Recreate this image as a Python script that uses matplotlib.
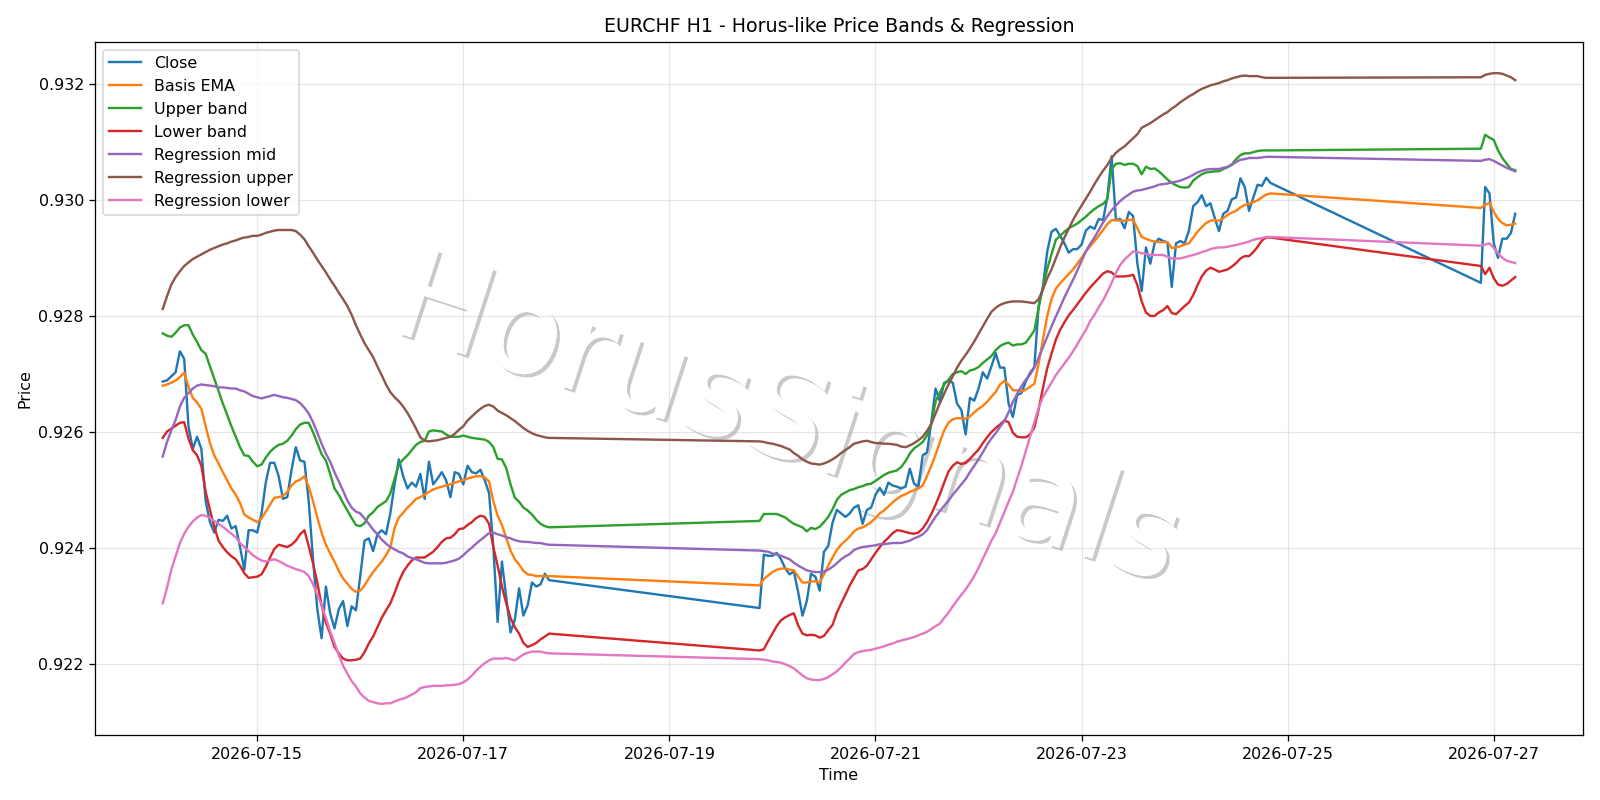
import pandas as pd
import matplotlib
matplotlib.use('Agg')
import matplotlib.pyplot as plt
import matplotlib.dates as mdates
import matplotlib.patheffects as pe

# hourly bars, three trading sessions (weekend gaps in between)
times = pd.DatetimeIndex(
    list(pd.date_range('2026-07-14 02:00', '2026-07-17 20:00', freq='h')) +
    list(pd.date_range('2026-07-19 21:00', '2026-07-24 20:00', freq='h')) +
    list(pd.date_range('2026-07-26 21:00', '2026-07-27 05:00', freq='h')))

close = [
    # session 1
    .92687, .92689, .92696, .92703, .92739, .92726, .92610, .92571, .92592, .92571,
    .92481, .92445, .92427, .92449, .92447, .92456, .92434, .92438, .92402, .92363,
    .92431, .92431, .92427, .92459, .92513, .92547, .92547, .92524, .92485, .92488,
    .92535, .92574, .92551, .92549, .92481, .92381, .92295, .92245, .92334, .92288,
    .92262, .92295, .92309, .92266, .92300, .92293, .92352, .92413, .92417, .92395,
    .92424, .92431, .92424, .92460, .92510, .92553, .92524, .92503, .92513, .92506,
    .92528, .92485, .92549, .92510, .92520, .92531, .92517, .92488, .92531, .92528,
    .92510, .92542, .92531, .92529, .92535, .92517, .92495, .92402, .92273, .92377,
    .92316, .92255, .92277, .92331, .92284, .92302, .92341, .92334, .92338, .92356,
    .92345,
    # session 2
    .92297, .92389, .92387, .92387, .92392, .92381, .92365, .92355, .92360, .92324,
    .92284, .92309, .92356, .92351, .92327, .92394, .92404, .92444, .92466, .92460,
    .92454, .92460, .92470, .92474, .92442, .92466, .92470, .92492, .92504, .92492,
    .92513, .92508, .92506, .92503, .92506, .92537, .92511, .92506, .92560, .92565,
    .92617, .92675, .92653, .92685, .92688, .92685, .92649, .92638, .92596, .92659,
    .92654, .92675, .92703, .92692, .92713, .92736, .92711, .92711, .92649, .92626,
    .92664, .92667, .92687, .92702, .92712, .92818, .92850, .92911, .92945, .92950,
    .92938, .92925, .92909, .92915, .92915, .92923, .92947, .92954, .92950, .92967,
    .92965, .93004, .93075, .92965, .92967, .92951, .92979, .92972, .92890, .92843,
    .92918, .92890, .92925, .92933, .92929, .92927, .92850, .92925, .92929, .92925,
    .92947, .92989, .92996, .93008, .92989, .92994, .92969, .92946, .92976, .92981,
    .93001, .93004, .93037, .93022, .92981, .93004, .93026, .93024, .93038, .93029,
    # session 3
    .92857, .93022, .93011, .92925, .92900, .92933, .92933, .92943, .92976]

basis_ema = [
    .92680, .92682, .92685, .92689, .92695, .92702, .92678, .92659, .92651, .92640,
    .92610, .92581, .92560, .92546, .92531, .92517, .92503, .92492, .92478, .92458,
    .92453, .92449, .92445, .92451, .92463, .92475, .92487, .92488, .92490, .92497,
    .92508, .92515, .92518, .92524, .92506, .92481, .92453, .92427, .92406, .92391,
    .92377, .92361, .92348, .92339, .92330, .92325, .92327, .92336, .92348, .92359,
    .92368, .92377, .92388, .92401, .92435, .92453, .92461, .92470, .92477, .92485,
    .92488, .92492, .92497, .92501, .92504, .92506, .92508, .92510, .92513, .92515,
    .92517, .92520, .92522, .92524, .92524, .92522, .92515, .92481, .92456, .92440,
    .92418, .92396, .92381, .92372, .92361, .92355, .92354, .92352, .92352, .92352,
    .92352,
    .92336, .92347, .92353, .92359, .92363, .92365, .92365, .92363, .92362, .92351,
    .92341, .92341, .92343, .92343, .92341, .92355, .92370, .92384, .92397, .92406,
    .92413, .92420, .92429, .92434, .92436, .92440, .92445, .92452, .92460, .92465,
    .92472, .92479, .92485, .92490, .92493, .92497, .92500, .92503, .92508, .92524,
    .92542, .92561, .92583, .92603, .92616, .92622, .92624, .92624, .92623, .92627,
    .92634, .92640, .92645, .92652, .92661, .92669, .92682, .92688, .92682, .92672,
    .92672, .92670, .92673, .92678, .92683, .92718, .92759, .92800, .92829, .92847,
    .92856, .92864, .92872, .92880, .92890, .92900, .92911, .92920, .92929, .92938,
    .92948, .92958, .92965, .92965, .92964, .92964, .92965, .92966, .92951, .92936,
    .92933, .92930, .92928, .92927, .92927, .92927, .92917, .92918, .92920, .92923,
    .92925, .92935, .92945, .92953, .92960, .92964, .92965, .92964, .92968, .92974,
    .92978, .92981, .92987, .92991, .92993, .92996, .92999, .93004, .93009, .93011,
    .92986, .92991, .92995, .92979, .92967, .92960, .92956, .92957, .92959]

upper_band = [
    .92770, .92766, .92764, .92771, .92780, .92784, .92784, .92768, .92755, .92741,
    .92735, .92713, .92692, .92671, .92649, .92630, .92610, .92592, .92574, .92560,
    .92559, .92549, .92541, .92544, .92556, .92566, .92573, .92578, .92580, .92585,
    .92594, .92605, .92613, .92616, .92616, .92600, .92581, .92562, .92551, .92528,
    .92503, .92492, .92478, .92465, .92452, .92440, .92438, .92443, .92456, .92462,
    .92471, .92476, .92481, .92494, .92520, .92544, .92553, .92560, .92569, .92578,
    .92583, .92585, .92601, .92603, .92602, .92601, .92596, .92592, .92592, .92592,
    .92594, .92592, .92590, .92589, .92588, .92587, .92583, .92574, .92554, .92553,
    .92538, .92510, .92487, .92480, .92470, .92465, .92458, .92449, .92442, .92438,
    .92436,
    .92447, .92459, .92459, .92459, .92459, .92456, .92453, .92447, .92442, .92439,
    .92436, .92429, .92435, .92433, .92437, .92445, .92454, .92467, .92483, .92492,
    .92496, .92500, .92502, .92505, .92507, .92510, .92511, .92516, .92521, .92526,
    .92530, .92532, .92534, .92540, .92550, .92563, .92572, .92577, .92583, .92594,
    .92614, .92653, .92668, .92682, .92690, .92700, .92703, .92705, .92700, .92706,
    .92708, .92712, .92719, .92725, .92731, .92741, .92748, .92752, .92754, .92749,
    .92751, .92751, .92754, .92764, .92775, .92814, .92850, .92881, .92906, .92931,
    .92938, .92945, .92951, .92955, .92959, .92965, .92971, .92978, .92984, .92989,
    .92993, .93001, .93053, .93062, .93063, .93060, .93062, .93062, .93058, .93044,
    .93057, .93053, .93054, .93049, .93042, .93035, .93029, .93025, .93022, .93021,
    .93022, .93033, .93039, .93044, .93047, .93048, .93049, .93049, .93053, .93056,
    .93061, .93070, .93077, .93080, .93080, .93082, .93084, .93085, .93085, .93085,
    .93088, .93112, .93107, .93103, .93085, .93072, .93062, .93053, .93051]

lower_band = [
    .92590, .92601, .92606, .92611, .92616, .92617, .92589, .92569, .92560, .92542,
    .92497, .92466, .92437, .92413, .92402, .92393, .92386, .92381, .92370, .92357,
    .92349, .92350, .92351, .92355, .92368, .92384, .92399, .92406, .92404, .92402,
    .92406, .92413, .92424, .92431, .92404, .92374, .92341, .92302, .92272, .92253,
    .92230, .92219, .92210, .92207, .92207, .92208, .92210, .92221, .92236, .92248,
    .92264, .92280, .92293, .92305, .92323, .92343, .92359, .92370, .92379, .92384,
    .92384, .92384, .92389, .92394, .92402, .92411, .92417, .92418, .92424, .92433,
    .92434, .92440, .92445, .92452, .92456, .92454, .92442, .92402, .92370, .92334,
    .92305, .92280, .92264, .92253, .92237, .92230, .92233, .92237, .92243, .92248,
    .92253,
    .92224, .92226, .92240, .92253, .92266, .92276, .92281, .92285, .92288, .92267,
    .92253, .92250, .92251, .92250, .92246, .92249, .92259, .92268, .92289, .92305,
    .92320, .92336, .92349, .92362, .92364, .92370, .92381, .92392, .92402, .92411,
    .92418, .92426, .92431, .92430, .92428, .92426, .92425, .92427, .92434, .92445,
    .92459, .92475, .92493, .92513, .92532, .92542, .92548, .92545, .92547, .92554,
    .92562, .92570, .92581, .92591, .92600, .92607, .92613, .92620, .92617, .92599,
    .92592, .92591, .92591, .92596, .92608, .92639, .92676, .92710, .92735, .92759,
    .92776, .92789, .92801, .92810, .92820, .92830, .92840, .92849, .92857, .92865,
    .92873, .92877, .92875, .92868, .92868, .92868, .92869, .92871, .92853, .92825,
    .92806, .92800, .92800, .92806, .92810, .92817, .92805, .92803, .92810, .92817,
    .92823, .92836, .92853, .92868, .92878, .92883, .92880, .92876, .92878, .92880,
    .92885, .92891, .92899, .92903, .92903, .92910, .92919, .92930, .92935, .92935,
    .92886, .92872, .92883, .92865, .92854, .92852, .92855, .92861, .92867]

reg_mid = [
    .92558, .92583, .92603, .92621, .92644, .92659, .92667, .92675, .92680, .92682,
    .92681, .92680, .92679, .92677, .92677, .92676, .92675, .92675, .92672, .92670,
    .92666, .92662, .92660, .92658, .92660, .92662, .92664, .92662, .92660, .92659,
    .92657, .92655, .92650, .92642, .92632, .92617, .92599, .92580, .92563, .92549,
    .92531, .92515, .92499, .92482, .92470, .92463, .92460, .92451, .92442, .92432,
    .92424, .92415, .92408, .92402, .92398, .92394, .92391, .92386, .92383, .92381,
    .92378, .92375, .92374, .92374, .92374, .92374, .92375, .92377, .92379, .92382,
    .92388, .92395, .92401, .92408, .92414, .92420, .92426, .92427, .92424, .92422,
    .92419, .92417, .92414, .92412, .92411, .92411, .92410, .92409, .92409, .92407,
    .92406,
    .92396, .92395, .92394, .92391, .92389, .92387, .92384, .92381, .92375, .92370,
    .92366, .92362, .92360, .92359, .92359, .92360, .92363, .92368, .92374, .92381,
    .92386, .92390, .92397, .92400, .92402, .92403, .92404, .92405, .92407, .92407,
    .92408, .92409, .92409, .92409, .92411, .92413, .92417, .92420, .92424, .92431,
    .92443, .92454, .92464, .92473, .92482, .92492, .92501, .92510, .92519, .92531,
    .92542, .92553, .92565, .92578, .92589, .92598, .92609, .92619, .92634, .92652,
    .92666, .92679, .92690, .92699, .92711, .92728, .92746, .92764, .92782, .92799,
    .92815, .92832, .92847, .92862, .92878, .92895, .92911, .92924, .92935, .92948,
    .92961, .92972, .92982, .92990, .92998, .93004, .93009, .93014, .93016, .93017,
    .93019, .93021, .93023, .93026, .93027, .93028, .93030, .93031, .93033, .93036,
    .93039, .93043, .93047, .93050, .93052, .93053, .93053, .93053, .93055, .93057,
    .93060, .93065, .93069, .93070, .93072, .93072, .93072, .93073, .93074, .93074,
    .93067, .93069, .93070, .93067, .93063, .93059, .93055, .93052, .93049]

reg_upper = [
    .92812, .92834, .92854, .92867, .92877, .92886, .92892, .92898, .92902, .92906,
    .92910, .92914, .92917, .92920, .92923, .92925, .92928, .92930, .92933, .92935,
    .92936, .92938, .92938, .92940, .92943, .92945, .92947, .92948, .92948, .92948,
    .92948, .92946, .92940, .92932, .92920, .92909, .92897, .92886, .92875, .92863,
    .92852, .92840, .92829, .92817, .92802, .92784, .92768, .92753, .92741, .92729,
    .92713, .92698, .92682, .92669, .92660, .92653, .92644, .92633, .92620, .92606,
    .92591, .92585, .92584, .92585, .92586, .92588, .92590, .92592, .92597, .92604,
    .92610, .92620, .92627, .92634, .92640, .92645, .92647, .92644, .92637, .92633,
    .92629, .92624, .92619, .92613, .92607, .92602, .92598, .92595, .92593, .92591,
    .92590,
    .92584, .92583, .92581, .92580, .92578, .92576, .92573, .92570, .92564, .92559,
    .92553, .92549, .92546, .92545, .92544, .92546, .92549, .92553, .92558, .92564,
    .92569, .92574, .92580, .92582, .92584, .92585, .92583, .92581, .92581, .92580,
    .92580, .92579, .92578, .92575, .92574, .92577, .92581, .92586, .92592, .92602,
    .92614, .92632, .92650, .92666, .92682, .92696, .92711, .92723, .92733, .92744,
    .92756, .92769, .92782, .92795, .92807, .92814, .92819, .92822, .92824, .92825,
    .92825, .92825, .92824, .92823, .92822, .92829, .92845, .92865, .92880, .92899,
    .92918, .92935, .92950, .92965, .92978, .92990, .93002, .93014, .93027, .93039,
    .93050, .93060, .93072, .93081, .93087, .93092, .93099, .93106, .93113, .93124,
    .93128, .93132, .93137, .93142, .93147, .93151, .93157, .93162, .93168, .93173,
    .93178, .93182, .93187, .93191, .93194, .93197, .93199, .93201, .93204, .93206,
    .93209, .93211, .93213, .93214, .93213, .93213, .93213, .93211, .93210, .93210,
    .93211, .93215, .93217, .93218, .93218, .93217, .93214, .93211, .93206]

reg_lower = [
    .92305, .92332, .92363, .92386, .92409, .92425, .92437, .92446, .92453, .92457,
    .92456, .92452, .92447, .92442, .92437, .92431, .92425, .92419, .92409, .92402,
    .92395, .92388, .92383, .92379, .92377, .92379, .92381, .92378, .92374, .92370,
    .92367, .92364, .92362, .92359, .92352, .92338, .92320, .92302, .92280, .92257,
    .92237, .92216, .92198, .92184, .92171, .92162, .92150, .92143, .92137, .92135,
    .92133, .92132, .92133, .92133, .92136, .92139, .92141, .92144, .92148, .92152,
    .92159, .92161, .92162, .92163, .92163, .92163, .92164, .92164, .92165, .92166,
    .92169, .92174, .92181, .92189, .92196, .92202, .92207, .92210, .92210, .92210,
    .92211, .92209, .92207, .92212, .92217, .92220, .92222, .92222, .92222, .92220,
    .92219,
    .92209, .92208, .92207, .92205, .92204, .92203, .92200, .92197, .92193, .92187,
    .92181, .92176, .92174, .92173, .92173, .92175, .92178, .92183, .92188, .92195,
    .92203, .92210, .92218, .92221, .92223, .92224, .92225, .92227, .92229, .92231,
    .92234, .92236, .92239, .92241, .92243, .92245, .92247, .92250, .92253, .92256,
    .92261, .92266, .92270, .92280, .92289, .92300, .92310, .92320, .92329, .92340,
    .92352, .92366, .92382, .92397, .92413, .92426, .92444, .92462, .92480, .92497,
    .92520, .92542, .92567, .92592, .92617, .92642, .92660, .92673, .92685, .92698,
    .92708, .92718, .92728, .92739, .92751, .92764, .92776, .92791, .92802, .92815,
    .92827, .92841, .92857, .92874, .92888, .92897, .92904, .92911, .92910, .92908,
    .92907, .92905, .92905, .92905, .92905, .92902, .92899, .92899, .92899, .92901,
    .92903, .92905, .92907, .92910, .92912, .92915, .92917, .92918, .92918, .92919,
    .92921, .92922, .92924, .92926, .92928, .92931, .92933, .92934, .92936, .92936,
    .92921, .92923, .92925, .92917, .92908, .92900, .92895, .92893, .92891]

series = [
    (close, 'Close'),
    (basis_ema, 'Basis EMA'),
    (upper_band, 'Upper band'),
    (lower_band, 'Lower band'),
    (reg_mid, 'Regression mid'),
    (reg_upper, 'Regression upper'),
    (reg_lower, 'Regression lower'),
]

fig, ax = plt.subplots(figsize=(14, 7), dpi=1600 / 14)

for vals, name in series:
    ax.plot(times, vals, label=name, lw=1.5)

# watermark, behind the lines
ax.text(0.465, 0.45, 'HorusSignals', transform=ax.transAxes, fontsize=79,
        rotation=-18, ha='center', va='center', color='white', zorder=0,
        path_effects=[pe.withSimplePatchShadow(offset=(2, -2)), pe.Normal()])

ax.xaxis.set_major_locator(mdates.DayLocator(bymonthday=range(1, 32, 2)))
ax.xaxis.set_major_formatter(mdates.DateFormatter('%Y-%m-%d'))
ax.set_title('EURCHF H1 - Horus-like Price Bands & Regression')
ax.set_xlabel('Time')
ax.set_ylabel('Price')
ax.grid(alpha=0.3)
ax.legend(loc='upper left')
fig.tight_layout()
fig.savefig('out.png', dpi=fig.dpi)
